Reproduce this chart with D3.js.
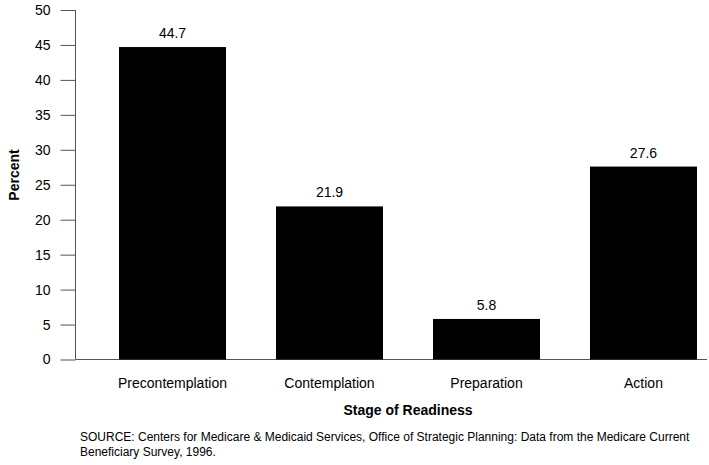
<!DOCTYPE html>
<html lang="en">
<head>
    <meta charset="utf-8">
    <title>Stage of Readiness</title>
    <script src="https://d3js.org/d3.v7.min.js"></script>
</head>
<style type="text/css">
    body {
        margin: 0;
        background: #fff;
    }

    svg text {
        font-family: "Liberation Sans", Arial, Helvetica, sans-serif;
        fill: #000;
    }

    .axis path,
    .axis line {
        stroke: #555;
        stroke-width: 1px;
    }

    .axis text {
        font-size: 14px;
    }
</style>
<body>
    <script>
        var width = 709,
            height = 465;

        // data
        var stages = ["Precontemplation", "Contemplation", "Preparation", "Action"];
        var percents = [44.7, 21.9, 5.8, 27.6];
        var yTicks = [0, 5, 10, 15, 20, 25, 30, 35, 40, 45, 50];

        var svg = d3.select("body").append("svg")
            .attr("width", width)
            .attr("height", height);

        //Scales

        var x = d3.scaleBand()
            .domain(stages)
            .range([76, 740])
            .paddingInner(0.3185)
            .paddingOuter(0.274);

        var y = d3.scaleLinear()
            .domain([0, 50])
            .range([359.5, 10]);

        //Y axis

        var yAxis = svg.append("g")
            .attr("class", "axis")
            .attr("transform", "translate(75.5,0)")
            .call(d3.axisLeft(y).tickValues(yTicks).tickSize(15).tickPadding(10).tickSizeOuter(0));
        yAxis.select(".domain").attr("d", "M0," + y(50) + "V" + y(0));

        // baseline
        svg.append("line")
            .attr("x1", 75.5)
            .attr("x2", 707)
            .attr("y1", y(0))
            .attr("y2", y(0))
            .attr("stroke", "#555");

        //Bars

        svg.selectAll("rect.bar")
            .data(percents)
            .enter().append("rect")
            .attr("class", "bar")
            .attr("x", function(d, i) { return x(stages[i]); })
            .attr("y", function(d) { return y(d); })
            .attr("width", x.bandwidth())
            .attr("height", function(d) { return y(0) - y(d); })
            .attr("fill", "#000");

        svg.selectAll("text.val")
            .data(percents)
            .enter().append("text")
            .attr("class", "val")
            .attr("x", function(d, i) { return x(stages[i]) + x.bandwidth() / 2; })
            .attr("y", function(d) { return y(d) - 9; })
            .attr("text-anchor", "middle")
            .style("font-size", "14px")
            .text(function(d) { return d.toFixed(1); });

        // category labels
        svg.selectAll("text.cat")
            .data(stages)
            .enter().append("text")
            .attr("class", "cat")
            .attr("x", function(d) { return x(d) + x.bandwidth() / 2; })
            .attr("y", 388)
            .attr("text-anchor", "middle")
            .style("font-size", "14px")
            .text(function(d) { return d; });

        //Titles

        svg.append("text")
            .attr("x", 408)
            .attr("y", 415)
            .attr("text-anchor", "middle")
            .style("font-size", "14px")
            .style("font-weight", "bold")
            .text("Stage of Readiness");

        svg.append("text")
            .attr("transform", "translate(19,175) rotate(-90)")
            .attr("text-anchor", "middle")
            .style("font-size", "14px")
            .style("font-weight", "bold")
            .text("Percent");

        var source = svg.append("text")
            .attr("x", 80)
            .attr("y", 441)
            .style("font-size", "12px");
        source.append("tspan")
            .attr("x", 80)
            .text("SOURCE: Centers for Medicare & Medicaid Services, Office of Strategic Planning: Data from the Medicare Current");
        source.append("tspan")
            .attr("x", 80)
            .attr("dy", 15)
            .text("Beneficiary Survey, 1996.");
    </script>
</body>
</html>
